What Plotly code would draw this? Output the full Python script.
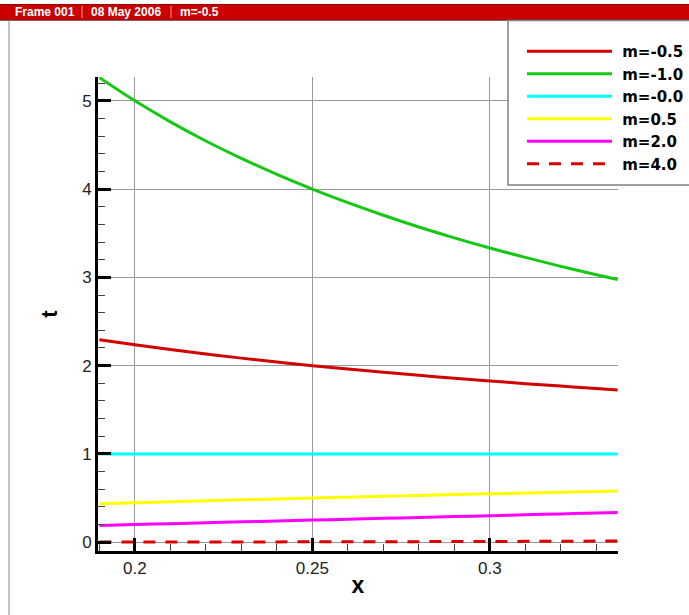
import plotly.graph_objects as go

W, H = 689, 615

# ---- data ----
x_vals = [0.19, 0.20, 0.21, 0.22, 0.23, 0.24, 0.25, 0.26, 0.27, 0.28, 0.29, 0.30, 0.31, 0.32, 0.33, 0.336]
t_m_neg05 = [2.294, 2.236, 2.182, 2.132, 2.085, 2.041, 2.000, 1.961, 1.925, 1.890, 1.857, 1.826, 1.796, 1.768, 1.741, 1.725]
t_m_neg10 = [5.263, 5.000, 4.762, 4.545, 4.348, 4.167, 4.000, 3.846, 3.704, 3.571, 3.448, 3.333, 3.226, 3.125, 3.030, 2.976]
t_m_neg00 = [1.00, 1.00, 1.00, 1.00, 1.00, 1.00, 1.00, 1.00, 1.00, 1.00, 1.00, 1.00, 1.00, 1.00, 1.00, 1.00]
t_m_05 = [0.436, 0.447, 0.458, 0.469, 0.480, 0.490, 0.500, 0.510, 0.520, 0.529, 0.539, 0.548, 0.557, 0.566, 0.574, 0.580]
t_m_20 = [0.190, 0.200, 0.210, 0.220, 0.230, 0.240, 0.250, 0.260, 0.270, 0.280, 0.290, 0.300, 0.310, 0.320, 0.330, 0.336]
t_m_40 = [0.0013, 0.0016, 0.0019, 0.0023, 0.0028, 0.0033, 0.0039, 0.0046, 0.0053, 0.0061, 0.0071, 0.0081, 0.0092, 0.0105, 0.0119, 0.0127]

series_names = ["m=-0.5", "m=-1.0", "m=-0.0", "m=0.5", "m=2.0", "m=4.0"]
series_values = [t_m_neg05, t_m_neg10, t_m_neg00, t_m_05, t_m_20, t_m_40]
series_colors = ["#d20000", "#14c814", "#00ffff", "#ffff00", "#ff00ff", "#dc0000"]
series_dash = ["solid", "solid", "solid", "solid", "solid", "12px,10px"]

x_tickvals = [0.2, 0.25, 0.3]
x_ticktext = ["0.2", "0.25", "0.3"]
y_tickvals = [0, 1, 2, 3, 4, 5]
y_ticktext = ["0", "1", "2", "3", "4", "5"]

header_texts = ["Frame 001", "08 May 2006", "m=-0.5"]

# ---- helpers (pixel -> paper) ----
def px(v):
    return v / W

def py(v):
    return 1 - v / H

FONT = "Liberation Sans, Arial, sans-serif"
NBSP = "\u00a0"

fig = go.Figure()
for name, vals, col, dash in zip(series_names, series_values, series_colors, series_dash):
    fig.add_trace(go.Scatter(
        x=x_vals, y=vals, mode="lines", name=NBSP + name,
        line=dict(color=col, width=3, dash=dash),
        line_shape="spline",
    ))

axis_common = dict(
    showline=True, linecolor="black", linewidth=3,
    ticks="inside", tickcolor="black", tickwidth=2.5, ticklen=13,
    showgrid=True, gridcolor="#9a9a9a", gridwidth=1,
    zeroline=False, mirror=False,
    tickfont=dict(family=FONT, size=17, color="#222"),
    automargin=False,
)

fig.update_xaxes(
    **axis_common,
    range=[0.1896, 0.3361],
    domain=[px(98), px(618)],
    tickvals=x_tickvals, ticktext=x_ticktext,
    minor=dict(ticks="inside", ticklen=7, tickwidth=1, tickcolor="#444", dtick=0.01, tick0=0.2, showgrid=False),
    title=dict(text="<b>x</b>", font=dict(family=FONT, size=23, color="black"), standoff=0),
)
fig.update_yaxes(
    **axis_common,
    range=[-0.1, 5.27],
    domain=[py(551), py(77)],
    tickvals=y_tickvals, ticktext=y_ticktext,
    minor=dict(ticks="inside", ticklen=7, tickwidth=1, tickcolor="#444", dtick=0.2, tick0=0, showgrid=False),
    title=dict(text="<b>t</b>", font=dict(family=FONT, size=22, color="black"), standoff=19),
)

shapes = []
# header bar
shapes.append(dict(type="rect", xref="paper", yref="paper", x0=0, x1=1, y0=py(20), y1=py(4),
                   fillcolor="#cc0000", line=dict(width=0), layer="above"))
shapes.append(dict(type="line", xref="paper", yref="paper", x0=0, x1=1, y0=py(4.5), y1=py(4.5),
                   line=dict(color="#990000", width=1), layer="above"))
shapes.append(dict(type="line", xref="paper", yref="paper", x0=0, x1=1, y0=py(20), y1=py(20),
                   line=dict(color="#7a2020", width=1.5), layer="above"))
for sx in (82, 171):
    shapes.append(dict(type="line", xref="paper", yref="paper", x0=px(sx), x1=px(sx), y0=py(6), y1=py(18),
                       line=dict(color="#f0a0a0", width=1), layer="above"))
# frame left border
shapes.append(dict(type="line", xref="paper", yref="paper", x0=px(9), x1=px(9), y0=0, y1=py(21),
                   line=dict(color="#c4c4c4", width=2), layer="above"))
# legend box
shapes.append(dict(type="rect", xref="paper", yref="paper", x0=px(508), x1=px(720), y0=py(185), y1=py(20.5),
                   fillcolor="white", line=dict(color="#808080", width=1.5), layer="above"))

annotations = []
hx = [13, 89, 178]
for txt, xx in zip(header_texts, hx):
    annotations.append(dict(text="<b>%s</b>" % txt, x=px(xx), y=py(12.5), xref="paper", yref="paper",
                            xanchor="left", yanchor="middle", showarrow=False,
                            font=dict(family=FONT, size=12, color="white")))

fig.update_layout(
    width=W, height=H,
    margin=dict(l=0, r=0, t=0, b=0),
    paper_bgcolor="white", plot_bgcolor="white",
    shapes=shapes, annotations=annotations,
    showlegend=True,
    legend=dict(
        x=px(522), y=py(35), xanchor="left", yanchor="top",
        bgcolor="rgba(0,0,0,0)", borderwidth=0,
        font=dict(family="DejaVu Sans, Verdana, sans-serif", size=15, color="black", weight="bold"),
        itemwidth=85, tracegroupgap=0,
    ),
)

fig.write_html("out.html")
